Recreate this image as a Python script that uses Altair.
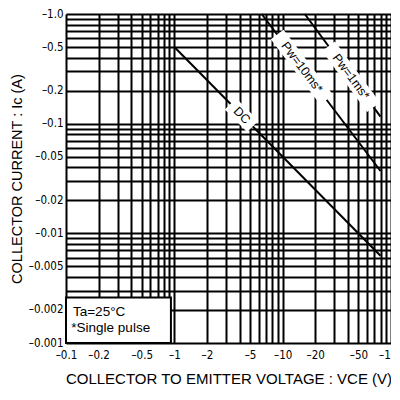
import altair as alt
import pandas as pd
import numpy as np

# ---- data ----
x_ticks = [0.1, 0.2, 0.5, 1, 2, 5, 10, 20, 50, 100]
x_tick_labels = ["–0.1", "–0.2", "–0.5", "–1", "–2", "–5", "–10", "–20", "–50", "–100"]
y_ticks = [0.001, 0.002, 0.005, 0.01, 0.02, 0.05, 0.1, 0.2, 0.5, 1]
y_tick_labels = ["–0.001", "–0.002", "–0.005", "–0.01", "–0.02", "–0.05", "–0.1", "–0.2", "–0.5", "–1.0"]

dc_v = [1.0, 80.0]
dc_i = [0.5, 0.00625]
p10_v = [6.4, 80.0]
p10_i = [1.0, 0.037]
p1_v = [16.0, 80.0]
p1_i = [1.0, 0.116]

label_text = ["DC", "Pw=10ms*", "Pw=1ms*"]
label_v = [4.2, 15.1, 42.8]
label_angle = [45.3, 52.8, 53.3]
box_v = [[3.3, 5.3], [8.9, 25.5], [26.5, 69.0]]

legend_lines = ["Ta=25°C", "*Single pulse"]
legend_v = [0.116, 0.112]
legend_i = [0.00191, 0.00137]
legend_box_v = [0.1, 0.93]
legend_box_i = [0.001, 0.0026]

# grid values
x_grid = sorted(set([round(m * 10.0 ** e, 6) for e in (-1, 0, 1) for m in range(1, 10)] + [100.0]))
y_grid = sorted(set([round(m * 10.0 ** e, 6) for e in (-3, -2, -1) for m in range(1, 10)] + [1.0]))


def lab_expr(vals, labs):
    return " : ".join(f"datum.value == {v} ? '{l}'" for v, l in zip(vals, labs)) + " : ''"


def on_line(vs, ls_v, ls_i):
    lv = np.log10(ls_v)
    li = np.log10(ls_i)
    return [float(10 ** np.interp(np.log10(v), lv, li)) for v in vs]


lines_v = [dc_v, p10_v, p1_v]
lines_i = [dc_i, p10_i, p1_i]

rows = []
for k, (vv, ii) in enumerate(zip(lines_v, lines_i)):
    for a, b in zip(vv, ii):
        rows.append({"v": a, "i": b, "s": label_text[k]})
lines_df = pd.DataFrame(rows)

box_rows = []
for k in range(3):
    bi = on_line(box_v[k], lines_v[k], lines_i[k])
    for a, b in zip(box_v[k], bi):
        box_rows.append({"v": a, "i": b, "s": label_text[k]})
box_df = pd.DataFrame(box_rows)

lab_rows = []
for k in range(3):
    li = on_line([label_v[k]], lines_v[k], lines_i[k])[0]
    lab_rows.append({"v": label_v[k], "i": li, "t": label_text[k], "a": label_angle[k]})
lab_df = pd.DataFrame(lab_rows)

leg_df = pd.DataFrame({"v": legend_v, "i": legend_i, "t": legend_lines})
legbox_df = pd.DataFrame({"v": [legend_box_v[0]], "v2": [legend_box_v[1]],
                          "i": [legend_box_i[0]], "i2": [legend_box_i[1]]})

tick_font = "DejaVu Sans Condensed, Liberation Sans Narrow, sans-serif"

x_enc = alt.X("v:Q",
              scale=alt.Scale(type="log", domain=[0.1, 100], nice=False),
              axis=alt.Axis(values=x_grid, labelExpr=lab_expr(x_ticks, x_tick_labels),
                            grid=True, gridColor="black", gridWidth=2, gridOpacity=1,
                            ticks=False, domain=False, labelOverlap=False, labelFlush=False,
                            labelFont=tick_font, labelFontSize=11.5, labelColor="black", labelPadding=6,
                            title="COLLECTOR TO EMITTER VOLTAGE : VCE (V)",
                            titleFont="Liberation Sans", titleFontSize=15, titleFontWeight="normal",
                            titleColor="black", titlePadding=11))
y_enc = alt.Y("i:Q",
              scale=alt.Scale(type="log", domain=[0.001, 1], nice=False),
              axis=alt.Axis(values=y_grid, labelExpr=lab_expr(y_ticks, y_tick_labels),
                            grid=True, gridColor="black", gridWidth=2, gridOpacity=1,
                            ticks=False, domain=False, labelOverlap=False, labelFlush=False,
                            labelFont=tick_font, labelFontSize=11.5, labelColor="black", labelPadding=3,
                            title="COLLECTOR CURRENT : Ic (A)",
                            titleFont="Liberation Sans", titleFontSize=14.5, titleFontWeight="normal",
                            titleColor="black", titlePadding=4))

lines = alt.Chart(lines_df).mark_line(color="black", strokeWidth=2).encode(
    x=x_enc, y=y_enc, detail="s:N")

boxes = alt.Chart(box_df).mark_line(color="white", strokeWidth=16, strokeCap="butt").encode(
    x=x_enc, y=y_enc, detail="s:N")

labels = alt.Chart(lab_df).mark_text(font="Liberation Sans", fontSize=12.5, color="black",
                                     align="center", baseline="middle").encode(
    x=x_enc, y=y_enc, text="t:N", angle=alt.Angle("a:Q", scale=None))

legbox = alt.Chart(legbox_df).mark_rect(fill="white", stroke="black", strokeWidth=2).encode(
    x=x_enc, x2="v2:Q", y=y_enc, y2="i2:Q")

legtext = alt.Chart(leg_df).mark_text(font="Liberation Sans", fontSize=13.5, color="black",
                                      align="left", baseline="middle").encode(
    x=x_enc, y=y_enc, text="t:N")

chart = alt.layer(lines, boxes, labels, legbox, legtext).properties(
    width=325, height=329,
    autosize=alt.AutoSizeParams(type="none"),
    padding={"left": 58, "top": 6, "right": 0, "bottom": 46},
).configure_view(stroke="black", strokeWidth=2).configure(background="white")

chart.save("out.html", embed_options={"renderer": "svg", "actions": False})
